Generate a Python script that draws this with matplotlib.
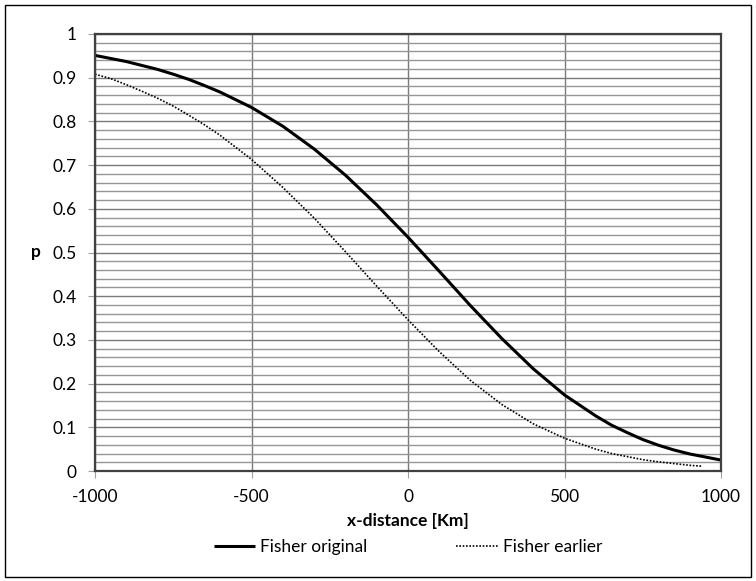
import matplotlib
matplotlib.use("Agg")
import matplotlib.pyplot as plt
from matplotlib.patches import Rectangle
from matplotlib.ticker import MultipleLocator

x_original = [-1000, -950, -900, -850, -800, -750, -700, -650, -600, -500, -400, -300, -200, -100, 0,
              100, 200, 300, 400, 500, 600, 650, 700, 750, 800, 850, 900, 950, 1000]
p_original = [0.951, 0.944, 0.937, 0.928, 0.919, 0.908, 0.896, 0.882, 0.867, 0.832, 0.789, 0.737,
              0.677, 0.609, 0.535, 0.457, 0.378, 0.303, 0.234, 0.174, 0.126, 0.105, 0.088, 0.072,
              0.059, 0.048, 0.039, 0.032, 0.025]

x_earlier = [-1000, -950, -900, -850, -800, -750, -700, -650, -600, -500, -400, -300, -200, -100, 0,
             100, 200, 300, 400, 500, 600, 650, 700, 750, 800, 850, 900, 940]
p_earlier = [0.908, 0.898, 0.884, 0.869, 0.853, 0.835, 0.814, 0.792, 0.768, 0.713, 0.649, 0.579,
             0.502, 0.423, 0.346, 0.273, 0.207, 0.152, 0.108, 0.075, 0.050, 0.040, 0.033, 0.026,
             0.021, 0.017, 0.013, 0.011]

x_ticks = [-1000, -500, 0, 500, 1000]
y_ticks = [0, 0.1, 0.2, 0.3, 0.4, 0.5, 0.6, 0.7, 0.8, 0.9, 1]
y_tick_labels = ["0", "0.1", "0.2", "0.3", "0.4", "0.5", "0.6", "0.7", "0.8", "0.9", "1"]

plt.rcParams['font.family'] = ['Lato', 'DejaVu Sans']

fig = plt.figure(figsize=(7.56, 5.81), dpi=100)
ax = fig.add_axes([95/756, 1 - 471/581, (721 - 95)/756, (471 - 34)/581])

ax.set_xlim(-1000, 1000)
ax.set_ylim(0, 1)
ax.set_xticks(x_ticks)
ax.set_xticklabels([str(v) for v in x_ticks])
ax.set_yticks(y_ticks)
ax.set_yticklabels(y_tick_labels)
ax.yaxis.set_minor_locator(MultipleLocator(0.02))

ax.grid(True, which='major', axis='y', color='#7a7a7a', lw=1.0)
ax.grid(True, which='minor', axis='y', color='#969696', lw=1.0)
ax.grid(True, which='major', axis='x', color='#7a7a7a', lw=1.0)
ax.set_axisbelow(True)

ax.tick_params(axis='both', which='major', direction='out', length=5, color='#a0a0a0',
               labelsize=12.5, pad=8)
ax.tick_params(axis='y', which='minor', length=0)
for s in ax.spines.values():
    s.set_color('#404040')
    s.set_linewidth(1.6)

ax.plot(x_original, p_original, color='black', lw=2.2, label='Fisher original',
        solid_capstyle='butt', solid_joinstyle='round')
ax.plot(x_earlier, p_earlier, color='black', lw=1.2, linestyle=(0, (1, 1)),
        label='Fisher earlier')

ax.set_xlabel('x-distance [Km]', fontsize=12.5, fontweight='bold', labelpad=6)
ax.set_ylabel('p', fontsize=12.5, fontweight='bold', rotation=0, labelpad=12, va='center')

leg = fig.legend(loc='center', bbox_to_anchor=(408/756, 1 - 547/581), ncol=2, frameon=False,
                 fontsize=12.5, handlelength=2.4, columnspacing=5.1, handletextpad=0.3)

fig.patches.append(Rectangle((5/756, 4/581), 746/756, 572/581, transform=fig.transFigure,
                             fill=False, edgecolor='black', lw=1.0))

fig.savefig('out.png', dpi=100)
